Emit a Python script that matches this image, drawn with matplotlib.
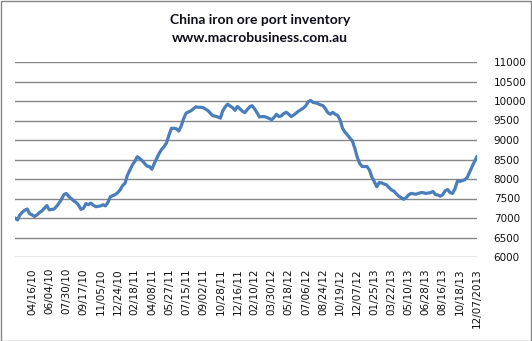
import numpy as np
import matplotlib
matplotlib.use('Agg')
import matplotlib.pyplot as plt
from matplotlib.patches import Rectangle

# Weekly port inventory (10k t)
inventory = [
    7000, 6950, 7080, 7150, 7200, 7230, 7110, 7080, 7040, 7080,
    7140, 7180, 7250, 7320, 7210, 7220, 7230, 7300, 7380, 7480,
    7600, 7630, 7550, 7500, 7440, 7400, 7330, 7220, 7250, 7370,
    7340, 7380, 7330, 7290, 7300, 7310, 7340, 7310, 7400, 7545,
    7570, 7600, 7650, 7720, 7830, 7890, 8100, 8230, 8360, 8450,
    8570, 8530, 8470, 8400, 8330, 8320, 8250, 8400, 8530, 8660,
    8760, 8830, 8930, 9130, 9300, 9300, 9290, 9230, 9360, 9550,
    9690, 9720, 9750, 9800, 9850, 9840, 9840, 9830, 9790, 9750,
    9680, 9620, 9610, 9590, 9560, 9750, 9850, 9920, 9870, 9830,
    9760, 9860, 9800, 9740, 9700, 9780, 9850, 9880, 9800, 9700,
    9590, 9600, 9600, 9580, 9550, 9520, 9580, 9660, 9600, 9620,
    9680, 9710, 9660, 9600, 9640, 9690, 9740, 9780, 9820, 9880,
    9990, 10010, 9960, 9950, 9930, 9900, 9880, 9800, 9700, 9660,
    9710, 9660, 9630, 9510, 9300, 9200, 9130, 9050, 8980, 8790,
    8560, 8400, 8320, 8320, 8320, 8230, 8050, 7930, 7800, 7910,
    7900, 7870, 7850, 7780, 7720, 7690, 7620, 7560, 7520, 7480,
    7520, 7590, 7630, 7620, 7610, 7630, 7650, 7650, 7630, 7640,
    7650, 7680, 7600, 7590, 7560, 7600, 7700, 7730, 7650, 7630,
    7750, 7950, 7940, 7960, 7980, 8040, 8180, 8320, 8450, 8580,
]

# category labels shown every 7th week
date_labels = ['04/16/10', '06/04/10', '07/30/10', '09/17/10', '11/05/10', '12/24/10',
               '02/18/11', '04/08/11', '05/27/11', '07/15/11', '09/02/11', '10/28/11',
               '12/16/11', '02/10/12', '03/30/12', '05/18/12', '07/06/12', '08/24/12',
               '10/19/12', '12/07/12', '01/25/13', '03/22/13', '05/10/13', '06/28/13',
               '08/16/13', '10/18/13', '12/07/2013']
label_step = 7

y_ticks = np.arange(6000, 11001, 500)

fig = plt.figure(figsize=(5.32, 3.41), dpi=100)
ax = fig.add_axes([15/532, 84/341, 462/532, 195/341])

x = np.arange(len(inventory))
ax.plot(x, inventory, color='#4A7EBB', linewidth=2.3, solid_capstyle='round',
        solid_joinstyle='round')

ax.set_xlim(0, len(inventory) - 1)
ax.set_ylim(6000, 11000)
ax.set_yticks(y_ticks)
ax.yaxis.tick_right()
ax.tick_params(axis='y', length=0, pad=12, labelsize=7.5, labelcolor='#111111')
ax.grid(axis='y', color='#878787', linewidth=1.0)
ax.set_axisbelow(True)

ax.set_xticks([label_step * (i + 1) for i in range(len(date_labels))])
ax.set_xticklabels(date_labels, rotation=90, fontsize=7.5, color='#111111')
ax.tick_params(axis='x', length=0, pad=8)

for s in ax.spines.values():
    s.set_visible(False)

fig.text(0.489, 1 - 20/341, 'China iron ore port inventory', ha='center', va='center',
         fontsize=10, fontweight='bold', family='Lato', color='#0d0d1a')
fig.text(0.489, 1 - 38/341, 'www.macrobusiness.com.au', ha='center', va='center',
         fontsize=10, fontweight='bold', family='Lato', color='#0d0d1a')

fig.patches.append(Rectangle((0.5/532, 0.5/341), 530.5/532, 339.5/341, transform=fig.transFigure,
                             fill=False, edgecolor='#868686', linewidth=1.0))

fig.savefig('out.png', dpi=100)
